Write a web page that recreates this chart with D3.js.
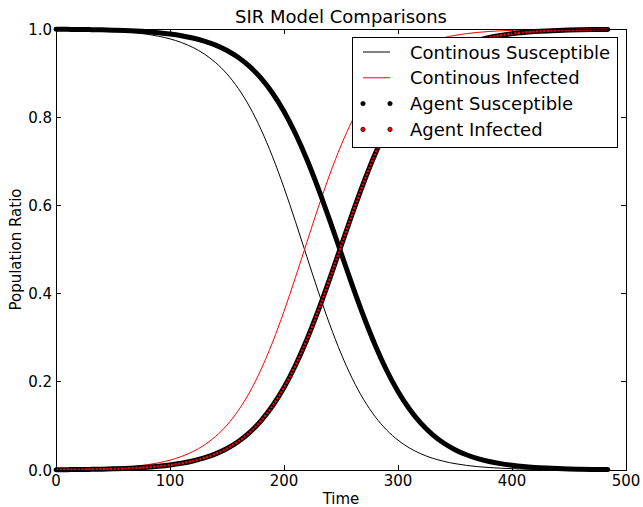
<!DOCTYPE html>
<html lang="en">
<head>
  <meta charset="UTF-8" />
  <title>SIR Model Comparisons</title>
  <script src="https://d3js.org/d3.v7.min.js"></script>
  <style>
    body {
      margin: 0;
      background: #fff;
      font-family: "DejaVu Sans", sans-serif;
    }
    svg text {
      fill: #000;
    }
  </style>
</head>
<body>
  <svg width="643" height="507"></svg>

  <script>
    // Data (time step -> population ratio)
    const times = [0, 10, 20, 30, 40, 50, 60, 70, 80, 90, 100, 110, 120, 130, 140, 150, 160, 170, 180, 190,
      200, 210, 220, 230, 240, 250, 260, 270, 280, 290, 300, 310, 320, 330, 340, 350, 360, 370, 380, 390,
      400, 410, 420, 430, 440, 450, 460, 470, 480, 484];

    const contSusceptible = [0.9991, 0.9987, 0.9982, 0.9976, 0.9966, 0.9954, 0.9937, 0.9913, 0.9881, 0.9836,
      0.9776, 0.9694, 0.9583, 0.9435, 0.9238, 0.8981, 0.8648, 0.8229, 0.7713, 0.7101,
      0.6401, 0.5637, 0.4840, 0.4052, 0.3309, 0.2643, 0.2069, 0.1592, 0.1209, 0.0908,
      0.0676, 0.0500, 0.0368, 0.0270, 0.0198, 0.0144, 0.0105, 0.0076, 0.0056, 0.0041,
      0.0030, 0.0021, 0.0016, 0.0011, 0.0008, 0.0006, 0.0004, 0.0003, 0.0002, 0.0002];

    const contInfected = [0.0009, 0.0013, 0.0018, 0.0024, 0.0034, 0.0046, 0.0063, 0.0087, 0.0119, 0.0164,
      0.0224, 0.0306, 0.0417, 0.0565, 0.0762, 0.1019, 0.1352, 0.1771, 0.2287, 0.2899,
      0.3599, 0.4363, 0.5160, 0.5948, 0.6691, 0.7357, 0.7931, 0.8408, 0.8791, 0.9092,
      0.9324, 0.9500, 0.9632, 0.9730, 0.9802, 0.9856, 0.9895, 0.9924, 0.9944, 0.9959,
      0.9970, 0.9979, 0.9984, 0.9989, 0.9992, 0.9994, 0.9996, 0.9997, 0.9998, 0.9998];

    const agentSusceptible = [0.9994, 0.9992, 0.9990, 0.9986, 0.9981, 0.9974, 0.9966, 0.9954, 0.9938, 0.9916,
      0.9887, 0.9848, 0.9796, 0.9726, 0.9634, 0.9512, 0.9352, 0.9145, 0.8879, 0.8544,
      0.8131, 0.7631, 0.7047, 0.6388, 0.5671, 0.4925, 0.4182, 0.3475, 0.2830, 0.2262,
      0.1780, 0.1382, 0.1062, 0.0809, 0.0612, 0.0461, 0.0346, 0.0258, 0.0192, 0.0144,
      0.0107, 0.0079, 0.0059, 0.0044, 0.0032, 0.0024, 0.0018, 0.0013, 0.0010, 0.0009];

    const agentInfected = [0.0006, 0.0008, 0.0010, 0.0014, 0.0019, 0.0026, 0.0034, 0.0046, 0.0062, 0.0084,
      0.0113, 0.0152, 0.0204, 0.0274, 0.0366, 0.0488, 0.0648, 0.0855, 0.1121, 0.1456,
      0.1869, 0.2369, 0.2953, 0.3612, 0.4329, 0.5075, 0.5818, 0.6525, 0.7170, 0.7738,
      0.8220, 0.8618, 0.8938, 0.9191, 0.9388, 0.9539, 0.9654, 0.9742, 0.9808, 0.9856,
      0.9893, 0.9921, 0.9941, 0.9956, 0.9968, 0.9976, 0.9982, 0.9987, 0.9990, 0.9991];

    const xTicks = [0, 100, 200, 300, 400, 500];
    const yTicks = [0, 0.2, 0.4, 0.6, 0.8, 1.0];
    const legendLabels = ["Continous Susceptible", "Continous Infected", "Agent Susceptible", "Agent Infected"];

    const svg = d3.select("svg");
    const margin = { left: 56, right: 17, top: 29, bottom: 37 };
    const width = +svg.attr("width");
    const height = +svg.attr("height");

    const x = d3.scaleLinear().domain([0, 500]).range([margin.left, width - margin.right]);
    const y = d3.scaleLinear().domain([0, 1]).range([height - margin.bottom, margin.top]);

    const toPoints = vals => times.map((t, i) => [t, vals[i]]);
    const line = d3.line()
      .x(d => x(d[0]))
      .y(d => y(d[1]))
      .curve(d3.curveMonotoneX);

    const plot = svg.append("g");

    // continuous model: thin lines
    plot.append("path")
      .attr("d", line(toPoints(contSusceptible)))
      .attr("fill", "none").attr("stroke", "#000").attr("stroke-width", 1);
    plot.append("path")
      .attr("d", line(toPoints(contInfected)))
      .attr("fill", "none").attr("stroke", "#f00").attr("stroke-width", 1);

    // agent model: dense markers -> thick band
    plot.append("path")
      .attr("d", line(toPoints(agentSusceptible)))
      .attr("fill", "none").attr("stroke", "#000").attr("stroke-width", 5)
      .attr("stroke-linecap", "round");
    plot.append("path")
      .attr("d", line(toPoints(agentInfected)))
      .attr("fill", "none").attr("stroke", "#000").attr("stroke-width", 5)
      .attr("stroke-linecap", "round");
    plot.append("path")
      .attr("d", line(toPoints(agentInfected)))
      .attr("fill", "none").attr("stroke", "#f00").attr("stroke-width", 2.2)
      .attr("stroke-dasharray", "2.2,1.4");

    // axes frame
    const x0 = x(0), x1 = x(500), y0 = y(0), y1 = y(1);
    svg.append("rect")
      .attr("x", x0).attr("y", y1)
      .attr("width", x1 - x0).attr("height", y0 - y1)
      .attr("fill", "none").attr("stroke", "#000").attr("stroke-width", 1)
      .attr("shape-rendering", "crispEdges");

    // inward ticks on every side
    const tickLen = 5;
    const ticks = svg.append("g").attr("stroke", "#000").attr("stroke-width", 1)
      .attr("shape-rendering", "crispEdges");
    xTicks.forEach(t => {
      ticks.append("line").attr("x1", x(t)).attr("x2", x(t)).attr("y1", y0).attr("y2", y0 - tickLen);
      ticks.append("line").attr("x1", x(t)).attr("x2", x(t)).attr("y1", y1).attr("y2", y1 + tickLen);
    });
    yTicks.forEach(t => {
      ticks.append("line").attr("x1", x0).attr("x2", x0 + tickLen).attr("y1", y(t)).attr("y2", y(t));
      ticks.append("line").attr("x1", x1).attr("x2", x1 - tickLen).attr("y1", y(t)).attr("y2", y(t));
    });

    // tick labels
    svg.append("g").selectAll("text")
      .data(xTicks)
      .enter()
      .append("text")
      .attr("x", d => x(d))
      .attr("y", y0 + 16)
      .attr("text-anchor", "middle")
      .attr("font-size", "15px")
      .text(d => d3.format("d")(d));

    svg.append("g").selectAll("text")
      .data(yTicks)
      .enter()
      .append("text")
      .attr("x", x0 - 4)
      .attr("y", d => y(d) + 5.5)
      .attr("text-anchor", "end")
      .attr("font-size", "15px")
      .text(d => d3.format(".1f")(d));

    // titles
    svg.append("text")
      .attr("x", (x0 + x1) / 2).attr("y", 23)
      .attr("text-anchor", "middle")
      .attr("font-size", "18px")
      .text("SIR Model Comparisons");

    svg.append("text")
      .attr("x", (x0 + x1) / 2).attr("y", 504)
      .attr("text-anchor", "middle")
      .attr("font-size", "15px")
      .text("Time");

    svg.append("text")
      .attr("transform", `translate(21,${(y0 + y1) / 2}) rotate(-90)`)
      .attr("text-anchor", "middle")
      .attr("font-size", "15px")
      .text("Population Ratio");

    // legend
    const legend = svg.append("g").attr("transform", "translate(352,37)");
    legend.append("rect")
      .attr("width", 265).attr("height", 110)
      .attr("fill", "#fff").attr("stroke", "#000").attr("stroke-width", 1)
      .attr("shape-rendering", "crispEdges");

    const rowY = i => 15 + i * 25.8;
    legendLabels.forEach((label, i) => {
      const row = legend.append("g").attr("transform", `translate(0,${rowY(i)})`);
      if (i < 2) {
        row.append("line")
          .attr("x1", 11).attr("x2", 38)
          .attr("stroke", i === 0 ? "#000" : "#f00").attr("stroke-width", 1);
      } else {
        [11, 38].forEach(cx => {
          row.append("circle")
            .attr("cx", cx).attr("r", 2.2)
            .attr("fill", i === 2 ? "#000" : "#f00")
            .attr("stroke", "#000").attr("stroke-width", 0.7);
        });
      }
      row.append("text")
        .attr("x", 58).attr("y", 6.5)
        .attr("font-size", "18px")
        .text(label);
    });
  </script>
</body>
</html>
